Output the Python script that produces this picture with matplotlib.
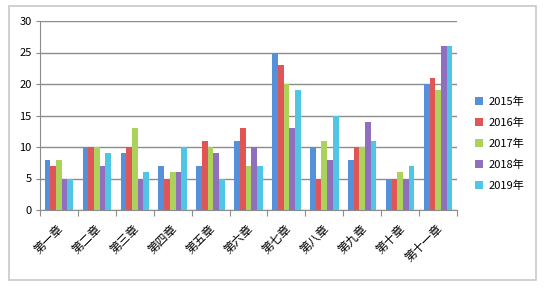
import matplotlib.pyplot as plt
import numpy as np
from matplotlib.patches import Rectangle

plt.rcParams['font.family'] = ['Noto Sans CJK SC', 'DejaVu Sans']

chapters = ["第一章", "第二章", "第三章", "第四章", "第五章", "第六章",
            "第七章", "第八章", "第九章", "第十章", "第十一章"]
years = ["2015年", "2016年", "2017年", "2018年", "2019年"]
v2015 = [8, 10, 9, 7, 7, 11, 25, 10, 8, 5, 20]
v2016 = [7, 10, 10, 5, 11, 13, 23, 5, 10, 5, 21]
v2017 = [8, 10, 13, 6, 10, 7, 20, 11, 10, 6, 19]
v2018 = [5, 7, 5, 6, 9, 10, 13, 8, 14, 5, 26]
v2019 = [5, 9, 6, 10, 5, 7, 19, 15, 11, 7, 26]
series = [v2015, v2016, v2017, v2018, v2019]
colors = ["#5690D8", "#E05656", "#ADD25C", "#8F6FBE", "#50C6E4"]

W, H = 550, 289
fig = plt.figure(figsize=(W / 100, H / 100), dpi=100)

# outer frame like the spreadsheet chart area
fig.patches.append(Rectangle((9 / W, 1 - 280 / H), (536 - 9) / W, (280 - 6) / H,
                             transform=fig.transFigure, fill=False,
                             edgecolor="#C8C8C8", lw=1.2))

ax = fig.add_axes([40 / W, 1 - 210 / H, (457 - 40) / W, (210 - 21) / H])

x = np.arange(len(chapters))
bw = 0.15
for i, (vals, c) in enumerate(zip(series, colors)):
    ax.bar(x + (i - 2) * bw, vals, width=bw, color=c, label=years[i], zorder=3)

ax.set_xlim(-0.5, len(chapters) - 0.5)
ax.set_ylim(0, 30)
ax.set_yticks(range(0, 31, 5))
ax.yaxis.grid(True, color="#8C8C8C", lw=1, zorder=0)
ax.tick_params(axis="y", length=3, color="#8C8C8C", labelsize=8, pad=3)

ax.set_xticks(np.arange(-0.5, len(chapters), 1))
ax.set_xticklabels([])
ax.tick_params(axis="x", length=4, color="#8C8C8C")
for xi, lab in zip(x, chapters):
    ax.text(xi - 0.05, -1.9, lab, rotation=45, ha="right", va="top",
            fontsize=8.5, rotation_mode="anchor")

for s in ["top", "right"]:
    ax.spines[s].set_visible(False)
for s in ["left", "bottom"]:
    ax.spines[s].set_color("#8C8C8C")

ax.legend(loc="center left", bbox_to_anchor=(1.02, 0.352), frameon=False,
          fontsize=8, handlelength=0.7, handleheight=0.7, handletextpad=0.5,
          labelspacing=0.95)

fig.savefig("out.png", dpi=100)
